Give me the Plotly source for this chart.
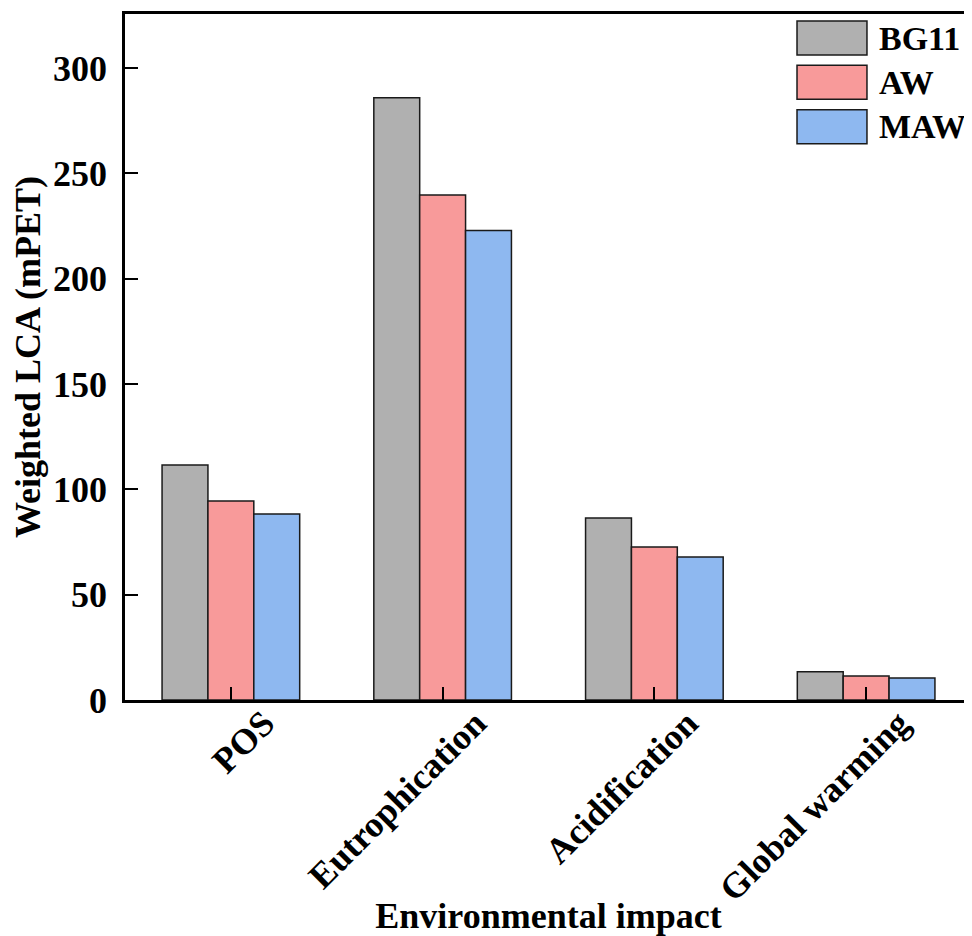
import plotly.graph_objects as go

categories = ["POS", "Eutrophication", "Acidification", "Global warming"]
series_names = ["BG11", "AW", "MAW"]
bg11 = [111.5, 285.8, 86.4, 13.4]
aw = [94.5, 239.7, 72.6, 11.4]
maw = [88.3, 222.8, 67.9, 10.4]
colors = ["#B0B0B0", "#F89A9A", "#8EB8F0"]
y_ticks = [0, 50, 100, 150, 200, 250, 300]

FONT = "Liberation Serif, Times New Roman, serif"

fig = go.Figure()
for name, vals, col in zip(series_names, [bg11, aw, maw], colors):
    fig.add_trace(go.Bar(
        x=categories, y=vals, name=name,
        marker=dict(color=col, line=dict(color="#1a1a1a", width=1.5)),
        showlegend=False,
    ))

# custom legend (large swatches like the original)
x0, x1 = 0.7934, 0.876
top = 0.9898
h = 0.0496
pitch = 0.0646
for i, (name, col) in enumerate(zip(series_names, colors)):
    yt = top - i * pitch
    fig.add_shape(type="rect", xref="paper", yref="paper",
                  x0=x0, x1=x1, y0=yt - h, y1=yt,
                  fillcolor=col, line=dict(color="#1a1a1a", width=1.5))
    fig.add_annotation(xref="paper", yref="paper", x=x1 + 0.012, y=yt - h / 2,
                       text=name, showarrow=False, xanchor="left", yanchor="middle",
                       font=dict(family=FONT, size=34, color="black", weight="bold"))

# page body has an 8px margin, so the figure is 8px smaller and margins offset
fig.update_layout(
    width=964, height=928,
    margin=dict(l=117, r=0, t=6, b=236),
    paper_bgcolor="white", plot_bgcolor="white",
    barmode="group", bargap=0.35, bargroupgap=0,
    font=dict(family=FONT, size=36, color="black", weight="bold"),
)
fig.update_xaxes(
    automargin=False,
    range=[-0.5, 3.5], showline=True, linecolor="black", linewidth=2.5, mirror=True,
    ticks="inside", ticklen=13, tickwidth=2, tickcolor="black",
    tickangle=-45, ticklabelshift=33, ticklabelstandoff=-15,
    tickfont=dict(family=FONT, size=36, color="black", weight="bold"),
    title=dict(text="Environmental impact", standoff=9,
               font=dict(family=FONT, size=36, color="black", weight="bold")),
    showgrid=False,
)
fig.update_yaxes(
    automargin=False,
    range=[0, 325.6], tickvals=y_ticks, showline=True, linecolor="black", linewidth=2.5,
    ticks="inside", ticklen=13, tickwidth=2, tickcolor="black",
    ticklabelstandoff=8,
    tickfont=dict(family=FONT, size=36, color="black", weight="bold"),
    title=dict(text="Weighted LCA (mPET)", standoff=10,
               font=dict(family=FONT, size=36, color="black", weight="bold")),
    showgrid=False, zeroline=False,
)

fig.write_html("out.html")
